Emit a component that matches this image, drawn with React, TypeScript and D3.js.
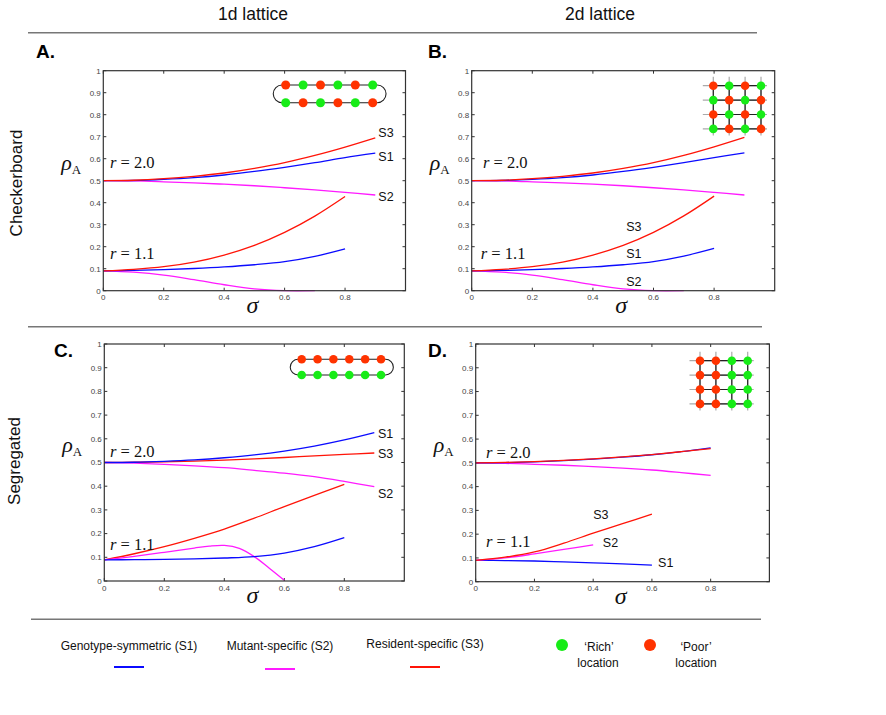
import React from 'react';
import * as d3 from 'd3';

// sigma grids the curves are sampled on
const sigma09 = [0, 0.1, 0.2, 0.3, 0.4, 0.5, 0.6, 0.7, 0.8, 0.9];
const sigma08 = [0, 0.1, 0.2, 0.3, 0.4, 0.5, 0.6, 0.7, 0.8];
const sigma07 = [0, 0.1, 0.2, 0.3, 0.4, 0.5, 0.6, 0.7];
const sigma06 = [0, 0.1, 0.2, 0.3, 0.4, 0.5, 0.6];
const sigma04 = [0, 0.1, 0.2, 0.3, 0.4];
const sigmaBump = [0, 0.1, 0.2, 0.3, 0.35, 0.4, 0.45, 0.5, 0.55, 0.6];

// A. checkerboard, 1d lattice
const aS1r2 = [0.5, 0.501, 0.506, 0.514, 0.526, 0.542, 0.561, 0.582, 0.605, 0.625];
const aS2r2 = [0.5, 0.499, 0.495, 0.49, 0.484, 0.477, 0.468, 0.458, 0.447, 0.435];
const aS3r2 = [0.5, 0.502, 0.509, 0.52, 0.535, 0.556, 0.582, 0.615, 0.653, 0.695];
const aS1r1 = [0.09, 0.092, 0.096, 0.101, 0.108, 0.118, 0.132, 0.156, 0.19];
const aS2r1 = [0.09, 0.084, 0.071, 0.05, 0.027, 0.008, 0, 0];
const aS3r1 = [0.09, 0.097, 0.109, 0.13, 0.162, 0.206, 0.265, 0.339, 0.428];

// B. checkerboard, 2d lattice
const bS1r2 = [0.5, 0.501, 0.506, 0.514, 0.526, 0.542, 0.561, 0.582, 0.605, 0.626];
const bS2r2 = [0.5, 0.499, 0.495, 0.49, 0.484, 0.477, 0.468, 0.458, 0.447, 0.435];
const bS3r2 = [0.5, 0.502, 0.509, 0.52, 0.535, 0.556, 0.582, 0.615, 0.654, 0.697];
const bS1r1 = [0.09, 0.092, 0.096, 0.101, 0.108, 0.118, 0.132, 0.157, 0.192];
const bS2r1 = [0.09, 0.084, 0.071, 0.05, 0.027, 0.008, 0, 0];
const bS3r1 = [0.09, 0.097, 0.109, 0.13, 0.162, 0.206, 0.265, 0.34, 0.43];

// C. segregated, 1d lattice
const cS1r2 = [0.5, 0.501, 0.505, 0.511, 0.52, 0.532, 0.548, 0.569, 0.595, 0.626];
const cS2r2 = [0.5, 0.497, 0.492, 0.486, 0.478, 0.467, 0.455, 0.44, 0.42, 0.398];
const cS3r2 = [0.5, 0.501, 0.503, 0.506, 0.51, 0.515, 0.521, 0.528, 0.534, 0.54];
const cS1r1 = [0.089, 0.09, 0.091, 0.093, 0.097, 0.103, 0.118, 0.145, 0.183];
const cS2r1 = [0.089, 0.104, 0.121, 0.139, 0.147, 0.15, 0.138, 0.103, 0.054, 0.003];
const cS3r1 = [0.089, 0.115, 0.145, 0.18, 0.219, 0.265, 0.314, 0.361, 0.408];

// D. segregated, 2d lattice
const dS1r2 = [0.5, 0.501, 0.504, 0.509, 0.516, 0.524, 0.534, 0.547, 0.563];
const dS2r2 = [0.5, 0.498, 0.494, 0.49, 0.484, 0.478, 0.47, 0.459, 0.447];
const dS3r2 = [0.5, 0.502, 0.505, 0.51, 0.517, 0.525, 0.535, 0.547, 0.56];
const dS1r1 = [0.09, 0.089, 0.087, 0.083, 0.079, 0.075, 0.07];
const dS2r1 = [0.09, 0.1, 0.117, 0.136, 0.155];
const dS3r1 = [0.09, 0.103, 0.125, 0.162, 0.204, 0.244, 0.284];

const yTicks = [0, 0.1, 0.2, 0.3, 0.4, 0.5, 0.6, 0.7, 0.8, 0.9, 1];
const xTicks = [0, 0.2, 0.4, 0.6, 0.8];

const legendNames = ['Genotype-symmetric (S1)', 'Mutant-specific (S2)', 'Resident-specific (S3)'];

// lattice site layouts: P = poor, R = rich
const ringChecker = [['P', 'R', 'P', 'R', 'P', 'R'], ['R', 'P', 'R', 'P', 'R', 'P']];
const ringSegregated = [['P', 'P', 'P', 'P', 'P', 'P'], ['R', 'R', 'R', 'R', 'R', 'R']];
const gridChecker = [['P', 'R', 'P', 'R'], ['R', 'P', 'R', 'P'], ['P', 'R', 'P', 'R'], ['R', 'P', 'R', 'P']];
const gridSegregated = [['P', 'P', 'R', 'R'], ['P', 'P', 'R', 'R'], ['P', 'P', 'R', 'R'], ['P', 'P', 'R', 'R']];

const COLORS: any = { S1: '#0b0bff', S2: '#ff1aff', S3: '#ff1408' };
const SITE: any = { P: '#ff3300', R: '#17ec17' };
const SANS = '"Liberation Sans", Arial, Helvetica, sans-serif';
const SERIF = '"Liberation Serif", "Times New Roman", serif';

const curve = (s: string, sigma: number[], rho: number[]) => ({ s, sigma, rho });

const panels: any[] = [
  {
    label: 'A.', lx: 36, ly: 58,
    frame: { left: 103.3, right: 405.5, top: 70.7, bottom: 290.7 },
    curves: [
      curve('S2', sigma09, aS2r2), curve('S1', sigma09, aS1r2), curve('S3', sigma09, aS3r2),
      curve('S2', sigma07, aS2r1), curve('S1', sigma08, aS1r1), curve('S3', sigma08, aS3r1),
    ],
    tags: [['S3', 0.91, 0.717], ['S1', 0.91, 0.612], ['S2', 0.91, 0.43]],
    rTags: [[0.022, 0.558], [0.022, 0.145]],
    inset: { kind: 'ring', sites: ringChecker, x: 285.7, y: 85, dx: 17.4, dy: 17.7, r: 4.5 },
  },
  {
    label: 'B.', lx: 428, ly: 58,
    frame: { left: 471.7, right: 774.7, top: 70.7, bottom: 290.7 },
    curves: [
      curve('S2', sigma09, bS2r2), curve('S1', sigma09, bS1r2), curve('S3', sigma09, bS3r2),
      curve('S2', sigma07, bS2r1), curve('S1', sigma08, bS1r1), curve('S3', sigma08, bS3r1),
    ],
    tags: [['S3', 0.51, 0.29], ['S1', 0.51, 0.167], ['S2', 0.51, 0.044]],
    rTags: [[0.037, 0.558], [0.03, 0.145]],
    inset: { kind: 'grid', sites: gridChecker, x: 713.3, y: 85.7, dx: 15.9, dy: 14.4, r: 4.3 },
  },
  {
    label: 'C.', lx: 54, ly: 357,
    frame: { left: 104.3, right: 404.3, top: 344, bottom: 581 },
    curves: [
      curve('S2', sigma09, cS2r2), curve('S3', sigma09, cS3r2), curve('S1', sigma09, cS1r2),
      curve('S3', sigma08, cS3r1), curve('S2', sigmaBump, cS2r1), curve('S1', sigma08, cS1r1),
    ],
    tags: [['S1', 0.912, 0.624], ['S3', 0.912, 0.54], ['S2', 0.912, 0.371]],
    rTags: [[0.019, 0.523], [0.019, 0.131]],
    inset: { kind: 'ring', sites: ringSegregated, x: 301.7, y: 359.3, dx: 15.86, dy: 15.7, r: 4.3 },
  },
  {
    label: 'D.', lx: 428, ly: 357,
    frame: { left: 475.7, right: 769.4, top: 344, bottom: 581.7 },
    curves: [
      curve('S2', sigma08, dS2r2), curve('S1', sigma08, dS1r2), curve('S3', sigma08, dS3r2),
      curve('S1', sigma06, dS1r1), curve('S2', sigma04, dS2r1), curve('S3', sigma06, dS3r1),
    ],
    tags: [['S3', 0.4, 0.281], ['S2', 0.433, 0.167], ['S1', 0.621, 0.079]],
    rTags: [[0.035, 0.52], [0.035, 0.147]],
    inset: { kind: 'grid', sites: gridSegregated, x: 700, y: 360.7, dx: 15.9, dy: 14.4, r: 4.3 },
  },
];

function RingInset({ sites, x, y, dx, dy, r }: any) {
  const n = sites[0].length;
  const rad = dy / 2;
  const lx = x - 3.6;
  const rx = x + dx * (n - 1) + 4.5;
  const path = `M${lx},${y} L${rx},${y} A${rad},${rad} 0 0 1 ${rx},${y + dy} L${lx},${y + dy} A${rad},${rad} 0 0 1 ${lx},${y}`;
  return (
    <g>
      <path d={path} fill="none" stroke="#222" strokeWidth={1.1} />
      {sites.map((row: string[], i: number) =>
        row.map((c, j) => <circle key={i + '-' + j} cx={x + j * dx} cy={y + i * dy} r={r} fill={SITE[c]} />)
      )}
    </g>
  );
}

function GridInset({ sites, x, y, dx, dy, r }: any) {
  const n = sites.length;
  const xe = x + dx * (n - 1);
  const ye = y + dy * (n - 1);
  const idx = d3.range(n);
  return (
    <g strokeWidth={1.2}>
      {idx.map((i) => (
        <g key={'s' + i} stroke="#aaa">
          <line x1={x - 10.5} x2={xe + 6} y1={y + i * dy} y2={y + i * dy} />
          <line x1={x + i * dx} x2={x + i * dx} y1={y - 9} y2={ye + 6.5} />
        </g>
      ))}
      {idx.map((i) => (
        <g key={'l' + i} stroke="#222">
          <line x1={x} x2={xe} y1={y + i * dy} y2={y + i * dy} />
          <line x1={x + i * dx} x2={x + i * dx} y1={y} y2={ye} />
        </g>
      ))}
      {sites.map((row: string[], i: number) =>
        row.map((c, j) => <circle key={i + '-' + j} cx={x + j * dx} cy={y + i * dy} r={r} fill={SITE[c]} stroke="none" />)
      )}
    </g>
  );
}

function Panel({ p }: any) {
  const { frame } = p;
  const xs = d3.scaleLinear().domain([0, 1]).range([frame.left, frame.right]);
  const ys = d3.scaleLinear().domain([0, 1]).range([frame.bottom, frame.top]);
  const pathFor = (c: any) =>
    d3
      .line<number>()
      .x((_, i) => xs(c.sigma[i]))
      .y((v) => ys(v))
      .curve(d3.curveCatmullRom.alpha(0.5))(c.rho) as string;
  const midX = (frame.left + frame.right) / 2;
  return (
    <g>
      <text x={p.lx} y={p.ly} fontFamily={SANS} fontWeight="bold" fontSize={19} fill="#000">
        {p.label}
      </text>
      {/* inner ticks on all four sides */}
      <g stroke="#333" strokeWidth={1}>
        {yTicks.map((t) => (
          <g key={'y' + t}>
            <line x1={frame.left} x2={frame.left + 3} y1={ys(t)} y2={ys(t)} />
            <line x1={frame.right - 3} x2={frame.right} y1={ys(t)} y2={ys(t)} />
          </g>
        ))}
        {xTicks.map((t) => (
          <g key={'x' + t}>
            <line x1={xs(t)} x2={xs(t)} y1={frame.bottom} y2={frame.bottom - 3} />
            <line x1={xs(t)} x2={xs(t)} y1={frame.top} y2={frame.top + 3} />
          </g>
        ))}
      </g>
      <g fontFamily={SANS} fontSize={8} fill="#444">
        {yTicks.map((t) => (
          <text key={'yl' + t} x={frame.left - 2.5} y={ys(t) + 2.8} textAnchor="end">
            {d3.format('~g')(t)}
          </text>
        ))}
        {xTicks.map((t) => (
          <text key={'xl' + t} x={xs(t)} y={frame.bottom + 9.5} textAnchor="middle">
            {d3.format('~g')(t)}
          </text>
        ))}
      </g>
      {p.inset.kind === 'ring' ? <RingInset {...p.inset} /> : <GridInset {...p.inset} />}
      {p.curves.map((c: any, i: number) => (
        <path key={'c' + i} d={pathFor(c)} fill="none" stroke={COLORS[c.s]} strokeWidth={1.3} />
      ))}
      <rect
        x={frame.left}
        y={frame.top}
        width={frame.right - frame.left}
        height={frame.bottom - frame.top}
        fill="none"
        stroke="#333"
        strokeWidth={1.2}
      />
      {p.tags.map((t: any) => (
        <text key={t[0]} x={xs(t[1])} y={ys(t[2]) + 4.5} fontFamily={SANS} fontSize={12.5} fill="#111">
          {t[0]}
        </text>
      ))}
      {p.rTags.map((t: any, i: number) => (
        <text key={'r' + i} x={xs(t[0])} y={ys(t[1])} fontFamily={SERIF} fontSize={16.5} fill="#111">
          <tspan fontStyle="italic">r</tspan>
          {' = ' + (i === 0 ? '2.0' : '1.1')}
        </text>
      ))}
      <text x={frame.left - 42} y={ys(0.5) - 11} fontFamily={SERIF} fill="#111">
        <tspan fontSize={22} fontStyle="italic">ρ</tspan>
        <tspan fontSize={13} dy={4}>A</tspan>
      </text>
      <text x={midX - 2} y={frame.bottom + 22} textAnchor="middle" fontFamily={SERIF} fontStyle="italic" fontSize={24} fill="#111">
        σ
      </text>
    </g>
  );
}

export default function App() {
  const legendX = [129, 280, 425];
  return (
    <svg width={886} height={715} style={{ position: 'absolute', left: 0, top: 0, background: '#fff' }}>
      <rect width={886} height={715} fill="#fff" />
      <g fontFamily={SANS} fontSize={17.5} fill="#111" textAnchor="middle">
        <text x={253} y={20}>1d lattice</text>
        <text x={600} y={20}>2d lattice</text>
      </g>
      <g stroke="#777" strokeWidth={1.5}>
        <line x1={28} x2={757} y1={32.7} y2={32.7} />
        <line x1={28} x2={762} y1={326.7} y2={326.7} />
        <line x1={31} x2={761} y1={619.3} y2={619.3} />
      </g>
      <g fontFamily={SANS} fontSize={17} fill="#111" textAnchor="middle">
        <text transform="translate(21.5,183) rotate(-90)">Checkerboard</text>
        <text transform="translate(19.5,461) rotate(-90)">Segregated</text>
      </g>
      {panels.map((p) => (
        <Panel key={p.label} p={p} />
      ))}
      {/* legend */}
      <g fontFamily={SANS} fontSize={12} fill="#111" textAnchor="middle">
        {legendNames.map((n, i) => (
          <g key={n}>
            <text x={legendX[i]} y={i === 2 ? 648 : 650}>{n}</text>
            <line
              x1={legendX[i] - 15}
              x2={legendX[i] + 15}
              y1={i === 1 ? 669 : 667}
              y2={i === 1 ? 669 : 667}
              stroke={COLORS['S' + (i + 1)]}
              strokeWidth={2}
            />
          </g>
        ))}
        <circle cx={562} cy={645} r={6} fill={SITE.R} />
        <text x={599} y={651}>‘Rich’</text>
        <text x={598} y={667}>location</text>
        <circle cx={650} cy={645} r={6} fill={SITE.P} />
        <text x={696} y={651}>‘Poor’</text>
        <text x={696} y={667}>location</text>
      </g>
    </svg>
  );
}
